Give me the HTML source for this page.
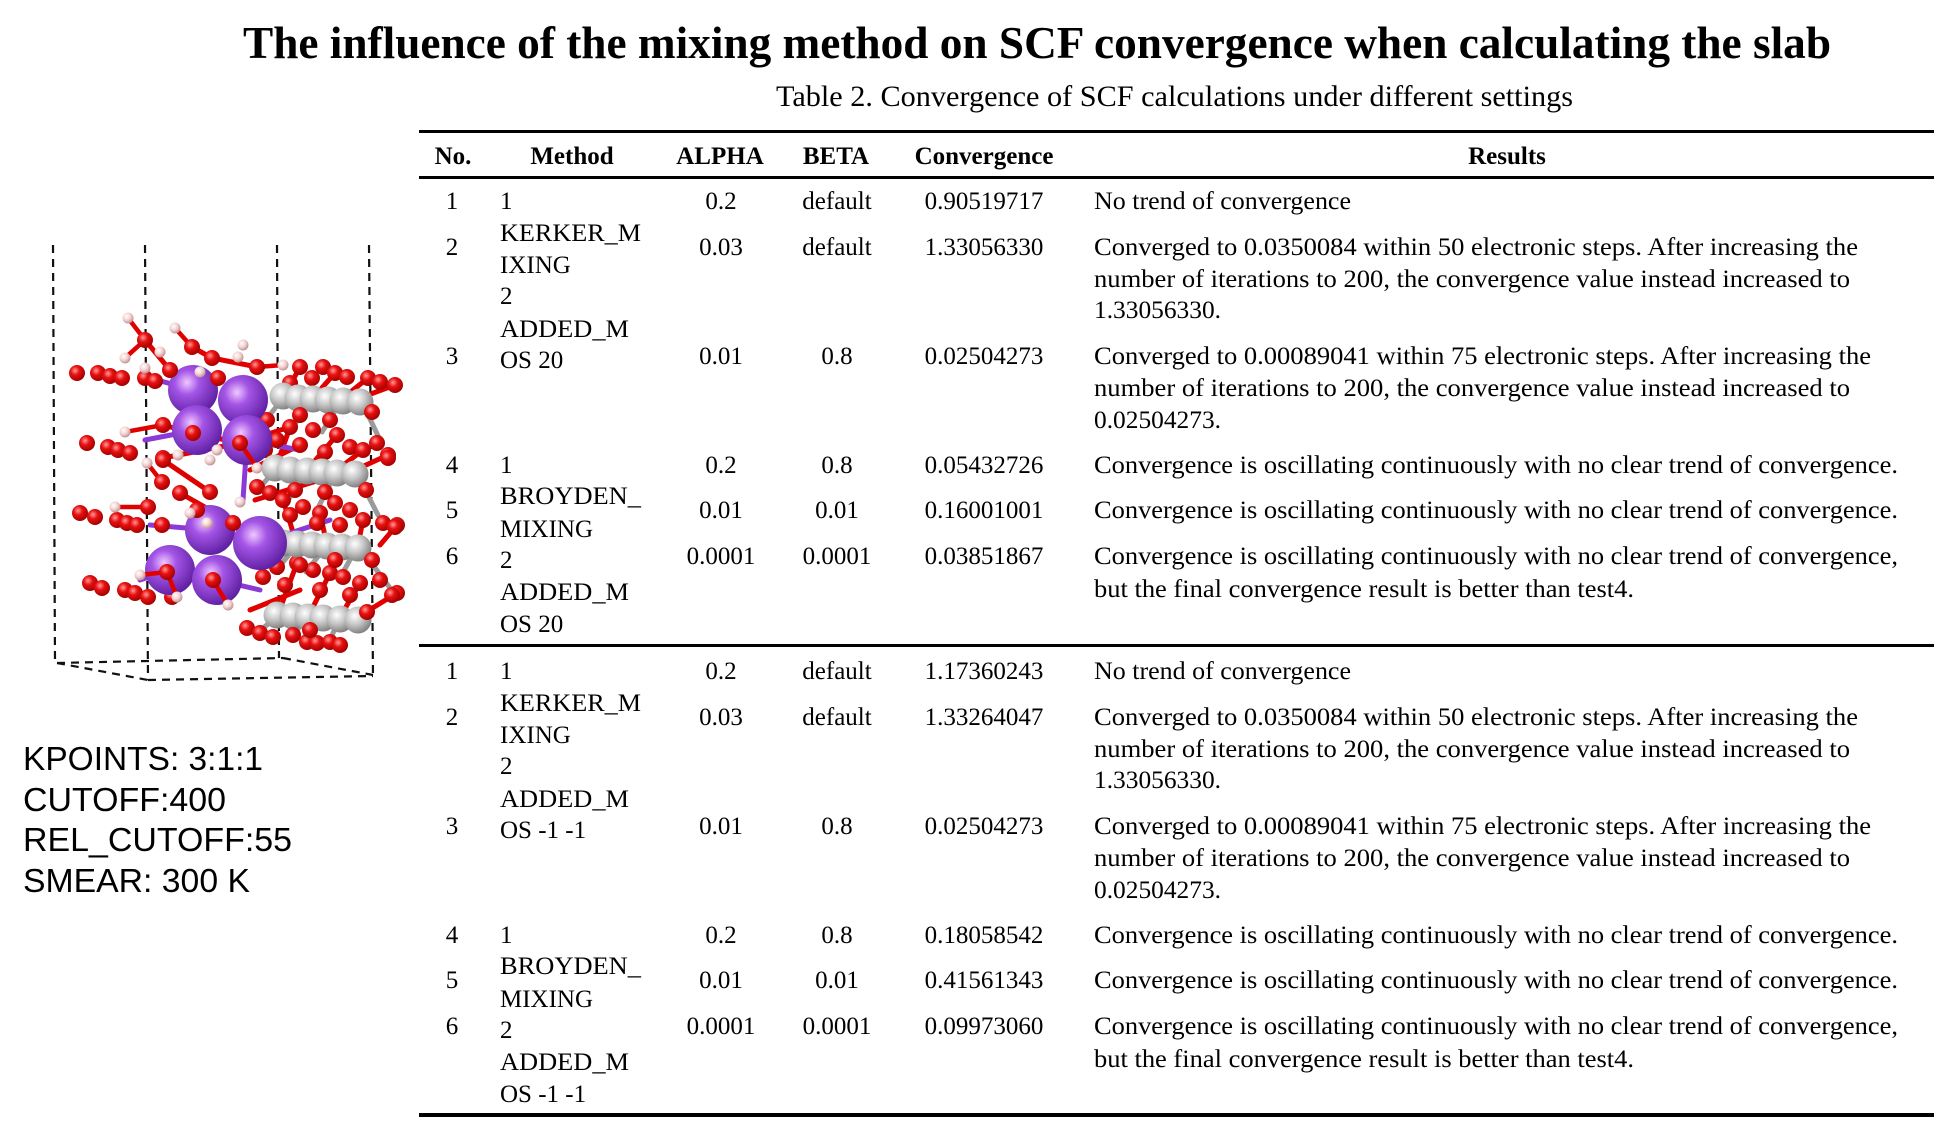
<!DOCTYPE html>
<html>
<head>
<meta charset="utf-8">
<style>
html,body{margin:0;padding:0;background:#fff;}
svg{display:block;}
.s{font-family:"Liberation Serif","Times New Roman",serif;fill:#000;}
.a{font-family:"Liberation Sans",Arial,sans-serif;fill:#000;}
</style>
</head>
<body>
<svg width="1936" height="1125" viewBox="0 0 1936 1125" xmlns="http://www.w3.org/2000/svg">
<defs>
<radialGradient id="gP" cx="0.38" cy="0.35" r="0.7">
<stop offset="0" stop-color="#f0c8ff"/><stop offset="0.35" stop-color="#a455e6"/><stop offset="1" stop-color="#5b1c9e"/>
</radialGradient>
<radialGradient id="gR" cx="0.38" cy="0.35" r="0.7">
<stop offset="0" stop-color="#ff9a9a"/><stop offset="0.4" stop-color="#e81010"/><stop offset="1" stop-color="#9a0000"/>
</radialGradient>
<radialGradient id="gG" cx="0.38" cy="0.35" r="0.7">
<stop offset="0" stop-color="#ffffff"/><stop offset="0.45" stop-color="#c9c9c9"/><stop offset="1" stop-color="#7a7a7a"/>
</radialGradient>
<radialGradient id="gH" cx="0.38" cy="0.35" r="0.7">
<stop offset="0" stop-color="#ffffff"/><stop offset="0.5" stop-color="#f4d2d2"/><stop offset="1" stop-color="#b88a8a"/>
</radialGradient>
</defs>
<rect width="1936" height="1125" fill="#fff"/>

<!-- Title -->
<text class="s" x="243" y="58" font-size="46" font-weight="bold" textLength="1588" lengthAdjust="spacingAndGlyphs">The influence of the mixing method on SCF convergence when calculating the slab</text>
<text class="s" x="776" y="106" font-size="30" textLength="797" lengthAdjust="spacingAndGlyphs">Table 2. Convergence of SCF calculations under different settings</text>

<!-- table lines -->
<rect x="419" y="130" width="1515" height="3" fill="#000"/>
<rect x="419" y="176" width="1515" height="3" fill="#000"/>
<rect x="419" y="644" width="1515" height="3" fill="#000"/>
<rect x="419" y="1113" width="1515" height="4" fill="#000"/>

<!-- header -->
<g class="s" font-size="25" font-weight="bold" text-anchor="middle">
<text x="453" y="164">No.</text>
<text x="572" y="164">Method</text>
<text x="720" y="164">ALPHA</text>
<text x="836" y="164">BETA</text>
<text x="984" y="164">Convergence</text>
<text x="1507" y="164">Results</text>
</g>

<!-- section 1 -->
<g class="s" font-size="25">
<g text-anchor="middle">
<text x="452" y="209">1</text><text x="721" y="209">0.2</text><text x="837" y="209">default</text><text x="984" y="209">0.90519717</text>
<text x="452" y="255">2</text><text x="721" y="255">0.03</text><text x="837" y="255">default</text><text x="984" y="255">1.33056330</text>
<text x="452" y="364">3</text><text x="721" y="364">0.01</text><text x="837" y="364">0.8</text><text x="984" y="364">0.02504273</text>
<text x="452" y="473">4</text><text x="721" y="473">0.2</text><text x="837" y="473">0.8</text><text x="984" y="473">0.05432726</text>
<text x="452" y="518">5</text><text x="721" y="518">0.01</text><text x="837" y="518">0.01</text><text x="984" y="518">0.16001001</text>
<text x="452" y="564">6</text><text x="721" y="564">0.0001</text><text x="837" y="564">0.0001</text><text x="984" y="564">0.03851867</text>
</g>
<text x="500" y="209">1</text>
<text x="500" y="241" textLength="141" lengthAdjust="spacingAndGlyphs">KERKER_M</text>
<text x="500" y="273">IXING</text>
<text x="500" y="304">2</text>
<text x="500" y="337" textLength="129" lengthAdjust="spacingAndGlyphs">ADDED_M</text>
<text x="500" y="368">OS 20</text>
<text x="500" y="473">1</text>
<text x="500" y="504" textLength="141" lengthAdjust="spacingAndGlyphs">BROYDEN_</text>
<text x="500" y="537">MIXING</text>
<text x="500" y="568">2</text>
<text x="500" y="600" textLength="129" lengthAdjust="spacingAndGlyphs">ADDED_M</text>
<text x="500" y="632">OS 20</text>

<text x="1094" y="209" textLength="257" lengthAdjust="spacingAndGlyphs">No trend of convergence</text>
<text x="1094" y="255" textLength="764" lengthAdjust="spacingAndGlyphs">Converged to 0.0350084 within 50 electronic steps. After increasing the</text>
<text x="1094" y="287" textLength="756" lengthAdjust="spacingAndGlyphs">number of iterations to 200, the convergence value instead increased to</text>
<text x="1094" y="318" textLength="127" lengthAdjust="spacingAndGlyphs">1.33056330.</text>
<text x="1094" y="364" textLength="777" lengthAdjust="spacingAndGlyphs">Converged to 0.00089041  within 75 electronic steps. After increasing the</text>
<text x="1094" y="396" textLength="756" lengthAdjust="spacingAndGlyphs">number of iterations to 200, the convergence value instead increased to</text>
<text x="1094" y="428" textLength="127" lengthAdjust="spacingAndGlyphs">0.02504273.</text>
<text x="1094" y="473" textLength="804" lengthAdjust="spacingAndGlyphs">Convergence is oscillating continuously with no clear trend of convergence.</text>
<text x="1094" y="518" textLength="804" lengthAdjust="spacingAndGlyphs">Convergence is oscillating continuously with no clear trend of convergence.</text>
<text x="1094" y="564" textLength="804" lengthAdjust="spacingAndGlyphs">Convergence is oscillating continuously with no clear trend of convergence,</text>
<text x="1094" y="597" textLength="540" lengthAdjust="spacingAndGlyphs">but the final convergence result is better than test4.</text>
</g>

<!-- section 2 -->
<g class="s" font-size="25" transform="translate(0,470)">
<g text-anchor="middle">
<text x="452" y="209">1</text><text x="721" y="209">0.2</text><text x="837" y="209">default</text><text x="984" y="209">1.17360243</text>
<text x="452" y="255">2</text><text x="721" y="255">0.03</text><text x="837" y="255">default</text><text x="984" y="255">1.33264047</text>
<text x="452" y="364">3</text><text x="721" y="364">0.01</text><text x="837" y="364">0.8</text><text x="984" y="364">0.02504273</text>
<text x="452" y="473">4</text><text x="721" y="473">0.2</text><text x="837" y="473">0.8</text><text x="984" y="473">0.18058542</text>
<text x="452" y="518">5</text><text x="721" y="518">0.01</text><text x="837" y="518">0.01</text><text x="984" y="518">0.41561343</text>
<text x="452" y="564">6</text><text x="721" y="564">0.0001</text><text x="837" y="564">0.0001</text><text x="984" y="564">0.09973060</text>
</g>
<text x="500" y="209">1</text>
<text x="500" y="241" textLength="141" lengthAdjust="spacingAndGlyphs">KERKER_M</text>
<text x="500" y="273">IXING</text>
<text x="500" y="304">2</text>
<text x="500" y="337" textLength="129" lengthAdjust="spacingAndGlyphs">ADDED_M</text>
<text x="500" y="368">OS -1 -1</text>
<text x="500" y="473">1</text>
<text x="500" y="504" textLength="141" lengthAdjust="spacingAndGlyphs">BROYDEN_</text>
<text x="500" y="537">MIXING</text>
<text x="500" y="568">2</text>
<text x="500" y="600" textLength="129" lengthAdjust="spacingAndGlyphs">ADDED_M</text>
<text x="500" y="632">OS -1 -1</text>

<text x="1094" y="209" textLength="257" lengthAdjust="spacingAndGlyphs">No trend of convergence</text>
<text x="1094" y="255" textLength="764" lengthAdjust="spacingAndGlyphs">Converged to 0.0350084 within 50 electronic steps. After increasing the</text>
<text x="1094" y="287" textLength="756" lengthAdjust="spacingAndGlyphs">number of iterations to 200, the convergence value instead increased to</text>
<text x="1094" y="318" textLength="127" lengthAdjust="spacingAndGlyphs">1.33056330.</text>
<text x="1094" y="364" textLength="777" lengthAdjust="spacingAndGlyphs">Converged to 0.00089041  within 75 electronic steps. After increasing the</text>
<text x="1094" y="396" textLength="756" lengthAdjust="spacingAndGlyphs">number of iterations to 200, the convergence value instead increased to</text>
<text x="1094" y="428" textLength="127" lengthAdjust="spacingAndGlyphs">0.02504273.</text>
<text x="1094" y="473" textLength="804" lengthAdjust="spacingAndGlyphs">Convergence is oscillating continuously with no clear trend of convergence.</text>
<text x="1094" y="518" textLength="804" lengthAdjust="spacingAndGlyphs">Convergence is oscillating continuously with no clear trend of convergence.</text>
<text x="1094" y="564" textLength="804" lengthAdjust="spacingAndGlyphs">Convergence is oscillating continuously with no clear trend of convergence,</text>
<text x="1094" y="597" textLength="540" lengthAdjust="spacingAndGlyphs">but the final convergence result is better than test4.</text>
</g>

<!-- left parameters -->
<g class="a" font-size="33.5">
<text x="23" y="770" textLength="240" lengthAdjust="spacingAndGlyphs">KPOINTS: 3:1:1</text>
<text x="23" y="811" textLength="203" lengthAdjust="spacingAndGlyphs">CUTOFF:400</text>
<text x="23" y="851" textLength="269" lengthAdjust="spacingAndGlyphs">REL_CUTOFF:55</text>
<text x="23" y="892" textLength="227" lengthAdjust="spacingAndGlyphs">SMEAR: 300 K</text>
</g>

<!-- molecular structure -->
<g fill="none" stroke="#111" stroke-width="2.2" stroke-dasharray="8 6">
<line x1="53" y1="245" x2="55" y2="663"/>
<line x1="145" y1="245" x2="148" y2="680"/>
<line x1="277" y1="245" x2="279" y2="658"/>
<line x1="369" y1="245" x2="373" y2="675"/>
<line x1="57" y1="663" x2="148" y2="680"/>
<line x1="148" y1="680" x2="373" y2="676"/>
<line x1="57" y1="663" x2="283" y2="658"/>
<line x1="283" y1="658" x2="373" y2="675"/>
</g>

<!-- bonds -->
<g stroke-width="5" stroke-linecap="round">
<g stroke="#9a9a9a">
<line x1="283" y1="398" x2="262" y2="425"/><line x1="313" y1="398" x2="292" y2="428"/><line x1="343" y1="398" x2="322" y2="432"/><line x1="360" y1="398" x2="380" y2="440"/>
<line x1="275" y1="470" x2="256" y2="492"/><line x1="307" y1="470" x2="288" y2="500"/><line x1="337" y1="470" x2="318" y2="508"/><line x1="355" y1="470" x2="378" y2="515"/>
<line x1="297" y1="545" x2="278" y2="568"/><line x1="327" y1="545" x2="306" y2="572"/><line x1="358" y1="545" x2="340" y2="578"/><line x1="358" y1="545" x2="390" y2="588"/>
<line x1="277" y1="617" x2="258" y2="632"/><line x1="308" y1="617" x2="292" y2="636"/><line x1="340" y1="617" x2="330" y2="640"/>
</g>
<g stroke="#e00000">
<line x1="300" y1="367" x2="283" y2="398"/><line x1="335" y1="373" x2="313" y2="398"/><line x1="368" y1="378" x2="343" y2="398"/><line x1="395" y1="385" x2="360" y2="398"/>
<line x1="290" y1="427" x2="275" y2="470"/><line x1="337" y1="435" x2="307" y2="470"/><line x1="363" y1="450" x2="337" y2="470"/><line x1="388" y1="455" x2="355" y2="470"/>
<line x1="283" y1="500" x2="297" y2="545"/><line x1="320" y1="513" x2="327" y2="545"/><line x1="363" y1="520" x2="358" y2="545"/><line x1="397" y1="525" x2="380" y2="545"/>
<line x1="297" y1="563" x2="277" y2="617"/><line x1="330" y1="573" x2="308" y2="617"/><line x1="360" y1="583" x2="340" y2="617"/><line x1="397" y1="593" x2="358" y2="617"/>
<line x1="145" y1="340" x2="170" y2="370"/><line x1="192" y1="347" x2="212" y2="358"/><line x1="212" y1="358" x2="257" y2="367"/>
<line x1="163" y1="425" x2="193" y2="433"/><line x1="193" y1="433" x2="240" y2="443"/><line x1="163" y1="460" x2="210" y2="492"/>
<line x1="180" y1="493" x2="233" y2="523"/><line x1="167" y1="572" x2="213" y2="580"/><line x1="163" y1="458" x2="240" y2="443"/>
<line x1="233" y1="523" x2="260" y2="543"/><line x1="240" y1="443" x2="290" y2="427"/>
<line x1="250" y1="470" x2="300" y2="445"/><line x1="255" y1="500" x2="320" y2="480"/><line x1="260" y1="560" x2="330" y2="540"/><line x1="250" y1="610" x2="300" y2="590"/>
</g>
<g stroke="#8b3ad6">
<line x1="193" y1="390" x2="150" y2="378"/><line x1="197" y1="430" x2="145" y2="440"/><line x1="247" y1="440" x2="300" y2="450"/>
<line x1="210" y1="530" x2="150" y2="525"/><line x1="260" y1="543" x2="330" y2="520"/><line x1="170" y1="570" x2="140" y2="580"/>
<line x1="217" y1="580" x2="260" y2="590"/><line x1="247" y1="440" x2="243" y2="500"/>
</g>
</g>

<!-- left red rows -->
<g fill="url(#gR)">
<circle cx="77" cy="373" r="8"/><circle cx="98" cy="373" r="8"/><circle cx="110" cy="376" r="8"/><circle cx="122" cy="378" r="8"/><circle cx="145" cy="378" r="8"/><circle cx="155" cy="381" r="8"/>
<circle cx="87" cy="443" r="8"/><circle cx="108" cy="447" r="8"/><circle cx="118" cy="450" r="8"/><circle cx="130" cy="453" r="8"/><circle cx="163" cy="458" r="8"/>
<circle cx="80" cy="513" r="8"/><circle cx="95" cy="517" r="8"/><circle cx="117" cy="520" r="8"/><circle cx="127" cy="523" r="8"/><circle cx="137" cy="525" r="8"/><circle cx="162" cy="525" r="8"/>
<circle cx="90" cy="583" r="8"/><circle cx="102" cy="588" r="8"/><circle cx="125" cy="590" r="8"/><circle cx="135" cy="593" r="8"/><circle cx="148" cy="597" r="8"/><circle cx="172" cy="597" r="8"/>
</g>

<!-- right region red (behind gray) -->
<g fill="url(#gR)">
<circle cx="300" cy="367" r="8"/><circle cx="323" cy="367" r="8"/><circle cx="335" cy="373" r="8"/><circle cx="347" cy="377" r="8"/><circle cx="368" cy="378" r="8"/><circle cx="380" cy="382" r="8"/><circle cx="395" cy="385" r="8"/><circle cx="312" cy="378" r="8"/><circle cx="290" cy="383" r="8"/>
<circle cx="290" cy="427" r="8"/><circle cx="313" cy="430" r="8"/><circle cx="337" cy="435" r="8"/><circle cx="350" cy="447" r="8"/><circle cx="363" cy="450" r="8"/><circle cx="377" cy="443" r="8"/><circle cx="388" cy="455" r="8"/><circle cx="267" cy="420" r="8"/><circle cx="253" cy="430" r="8"/><circle cx="277" cy="440" r="8"/><circle cx="300" cy="445" r="8"/><circle cx="325" cy="452" r="8"/><circle cx="265" cy="450" r="8"/>
<circle cx="257" cy="487" r="8"/><circle cx="270" cy="493" r="8"/><circle cx="283" cy="500" r="8"/><circle cx="303" cy="507" r="8"/><circle cx="320" cy="513" r="8"/><circle cx="335" cy="503" r="8"/><circle cx="350" cy="510" r="8"/><circle cx="363" cy="520" r="8"/><circle cx="383" cy="523" r="8"/><circle cx="397" cy="525" r="8"/><circle cx="317" cy="523" r="8"/><circle cx="290" cy="515" r="8"/><circle cx="340" cy="525" r="8"/>
<circle cx="297" cy="563" r="8"/><circle cx="313" cy="570" r="8"/><circle cx="330" cy="573" r="8"/><circle cx="343" cy="577" r="8"/><circle cx="360" cy="583" r="8"/><circle cx="380" cy="580" r="8"/><circle cx="397" cy="593" r="8"/><circle cx="277" cy="567" r="8"/><circle cx="263" cy="577" r="8"/><circle cx="285" cy="585" r="8"/><circle cx="320" cy="590" r="8"/><circle cx="350" cy="595" r="8"/>
</g>

<!-- gray spheres -->
<g fill="url(#gG)">
<circle cx="283" cy="396" r="13.5"/><circle cx="298" cy="398" r="13.5"/><circle cx="313" cy="399" r="13.5"/><circle cx="328" cy="400" r="13.5"/><circle cx="343" cy="401" r="13.5"/><circle cx="360" cy="402" r="13.5"/>
<circle cx="275" cy="468" r="13.5"/><circle cx="290" cy="470" r="13.5"/><circle cx="307" cy="471" r="13.5"/><circle cx="322" cy="472" r="13.5"/><circle cx="337" cy="473" r="13.5"/><circle cx="355" cy="474" r="13.5"/>
<circle cx="283" cy="543" r="13.5"/><circle cx="297" cy="544" r="13.5"/><circle cx="312" cy="545" r="13.5"/><circle cx="327" cy="546" r="13.5"/><circle cx="342" cy="547" r="13.5"/><circle cx="358" cy="548" r="13.5"/>
<circle cx="277" cy="615" r="13.5"/><circle cx="293" cy="616" r="13.5"/><circle cx="308" cy="617" r="13.5"/><circle cx="323" cy="618" r="13.5"/><circle cx="340" cy="619" r="13.5"/><circle cx="358" cy="620" r="13.5"/>
</g>

<!-- bottom red row and front reds -->
<g fill="url(#gR)">
<circle cx="247" cy="628" r="8"/><circle cx="260" cy="633" r="8"/><circle cx="273" cy="637" r="8"/><circle cx="293" cy="635" r="8"/><circle cx="307" cy="642" r="8"/><circle cx="317" cy="643" r="8"/><circle cx="330" cy="642" r="8"/><circle cx="340" cy="645" r="8"/><circle cx="310" cy="630" r="8"/>
<circle cx="372" cy="412" r="8"/><circle cx="388" cy="458" r="8"/><circle cx="366" cy="490" r="8"/><circle cx="395" cy="527" r="8"/><circle cx="372" cy="560" r="8"/><circle cx="392" cy="595" r="8"/><circle cx="367" cy="612" r="8"/>
<circle cx="300" cy="415" r="8"/><circle cx="330" cy="420" r="8"/><circle cx="295" cy="490" r="8"/><circle cx="325" cy="492" r="8"/><circle cx="300" cy="565" r="8"/><circle cx="335" cy="560" r="8"/>
</g>

<!-- purple spheres -->
<g fill="url(#gP)">
<circle cx="193" cy="390" r="25"/><circle cx="243" cy="400" r="25"/>
<circle cx="197" cy="430" r="25"/><circle cx="247" cy="440" r="25"/>
<circle cx="210" cy="530" r="25"/><circle cx="170" cy="570" r="25"/>
<circle cx="217" cy="580" r="25"/><circle cx="260" cy="543" r="27"/>
</g>

<!-- water molecules -->
<g stroke-width="4.5" stroke="#e00000" stroke-linecap="round">
<line x1="145" y1="340" x2="128" y2="318"/><line x1="145" y1="340" x2="125" y2="358"/><line x1="192" y1="347" x2="175" y2="328"/>
<line x1="257" y1="367" x2="283" y2="365"/><line x1="163" y1="425" x2="125" y2="432"/><line x1="240" y1="443" x2="257" y2="468"/>
<line x1="162" y1="482" x2="147" y2="463"/><line x1="148" y1="507" x2="115" y2="507"/><line x1="167" y1="572" x2="140" y2="575"/>
<line x1="213" y1="580" x2="228" y2="605"/><line x1="167" y1="572" x2="177" y2="597"/>
</g>
<g fill="url(#gR)">
<circle cx="145" cy="340" r="8"/><circle cx="192" cy="347" r="8"/><circle cx="212" cy="358" r="8"/><circle cx="257" cy="367" r="8"/><circle cx="218" cy="378" r="8"/><circle cx="170" cy="370" r="8"/>
<circle cx="163" cy="425" r="8"/><circle cx="193" cy="433" r="8"/><circle cx="240" cy="443" r="8"/><circle cx="163" cy="460" r="8"/><circle cx="162" cy="482" r="8"/><circle cx="210" cy="492" r="8"/><circle cx="180" cy="493" r="8"/><circle cx="233" cy="523" r="8"/><circle cx="197" cy="510" r="8"/><circle cx="148" cy="507" r="8"/>
<circle cx="167" cy="572" r="8"/><circle cx="213" cy="580" r="8"/>
</g>
<g fill="url(#gH)">
<circle cx="128" cy="318" r="5.5"/><circle cx="175" cy="328" r="5.5"/><circle cx="125" cy="358" r="5.5"/><circle cx="145" cy="368" r="5.5"/><circle cx="238" cy="357" r="5.5"/><circle cx="283" cy="365" r="5.5"/><circle cx="243" cy="345" r="5.5"/><circle cx="160" cy="352" r="5.5"/><circle cx="200" cy="372" r="5.5"/>
<circle cx="125" cy="432" r="5.5"/><circle cx="217" cy="450" r="5.5"/><circle cx="257" cy="468" r="5.5"/><circle cx="210" cy="460" r="5.5"/><circle cx="147" cy="463" r="5.5"/><circle cx="115" cy="507" r="5.5"/><circle cx="207" cy="523" r="5.5"/><circle cx="190" cy="513" r="5.5"/><circle cx="240" cy="502" r="5.5"/><circle cx="178" cy="455" r="5.5"/>
<circle cx="177" cy="597" r="5.5"/><circle cx="228" cy="605" r="5.5"/><circle cx="140" cy="575" r="5.5"/>
</g>
</svg>
</body>
</html>
